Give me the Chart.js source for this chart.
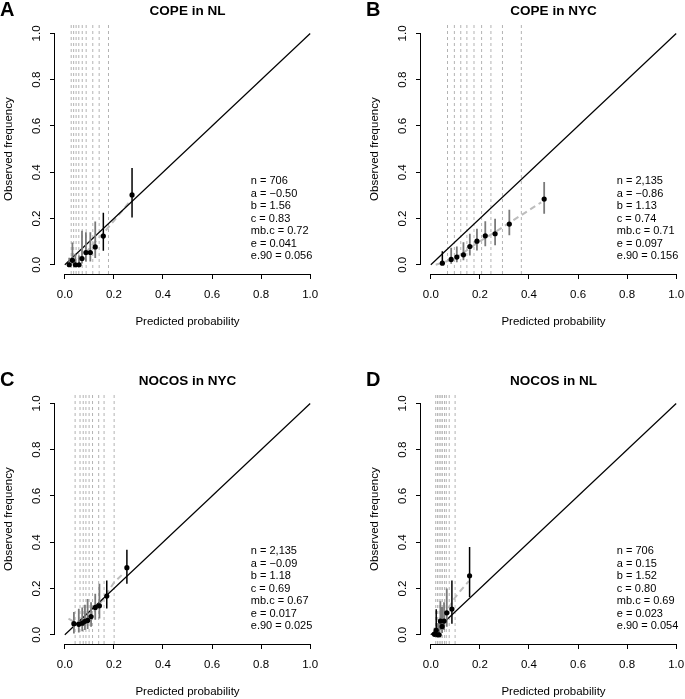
<!DOCTYPE html>
<html>
<head>
<meta charset="utf-8">
<script src="https://cdn.jsdelivr.net/npm/chart.js@4.4.1/dist/chart.umd.min.js"></script>
<style>
  html, body { margin: 0; padding: 0; background: #fff; }
  body { width: 685px; height: 699px; overflow: hidden; position: relative; }
  .panel { position: absolute; width: 345px; height: 370px; }
</style>
</head>
<body>
<div class="panel" style="left:0;top:0"><canvas id="chartA" width="345" height="370"></canvas></div>
<div class="panel" style="left:366px;top:0"><canvas id="chartB" width="345" height="370"></canvas></div>
<div class="panel" style="left:0;top:370px"><canvas id="chartC" width="345" height="370"></canvas></div>
<div class="panel" style="left:366px;top:370px"><canvas id="chartD" width="345" height="370"></canvas></div>
<script>
const tickValues = [0, 0.2, 0.4, 0.6, 0.8, 1.0];

// A - COPE in NL
const copeNlPred  = [0.018, 0.031, 0.043, 0.058, 0.070, 0.086, 0.104, 0.124, 0.157, 0.274];
const copeNlObs   = [0.000, 0.019, 0.000, 0.000, 0.027, 0.053, 0.053, 0.077, 0.124, 0.302];
const copeNlLow   = [0.000, 0.007, 0.000, 0.000, 0.005, 0.014, 0.014, 0.029, 0.060, 0.204];
const copeNlHigh  = [0.030, 0.096, 0.045, 0.040, 0.147, 0.141, 0.141, 0.187, 0.225, 0.418];
const copeNlCuts  = [0.026, 0.036, 0.046, 0.057, 0.071, 0.087, 0.114, 0.140, 0.178];
const copeNlSmoothX = [0.02, 0.05, 0.08, 0.12, 0.16, 0.20, 0.26];
const copeNlSmoothY = [0.00, 0.02, 0.045, 0.095, 0.14, 0.19, 0.267];
const copeNlStats = ['n = 706', 'a = \u22120.50', 'b = 1.56', 'c = 0.83', 'mb.c = 0.72', 'e = 0.041', 'e.90 = 0.056'];

// B - COPE in NYC
const copeNycPred = [0.047, 0.083, 0.106, 0.133, 0.159, 0.188, 0.222, 0.262, 0.320, 0.462];
const copeNycObs  = [0.007, 0.023, 0.033, 0.043, 0.079, 0.102, 0.125, 0.134, 0.176, 0.284];
const copeNycLow  = [0.000, 0.004, 0.011, 0.019, 0.040, 0.062, 0.080, 0.084, 0.127, 0.221];
const copeNycHigh = [0.058, 0.074, 0.079, 0.097, 0.134, 0.156, 0.188, 0.199, 0.238, 0.358];
const copeNycCuts = [0.068, 0.096, 0.122, 0.147, 0.176, 0.207, 0.245, 0.292, 0.369];
const copeNycSmoothX = [0.02, 0.08, 0.13, 0.19, 0.26, 0.34, 0.45];
const copeNycSmoothY = [0.00, 0.02, 0.05, 0.095, 0.14, 0.195, 0.27];
const copeNycStats = ['n = 2,135', 'a = \u22120.86', 'b = 1.13', 'c = 0.74', 'mb.c = 0.71', 'e = 0.097', 'e.90 = 0.156'];

// C - NOCOS in NYC
const nocosNycPred = [0.037, 0.057, 0.071, 0.082, 0.093, 0.107, 0.124, 0.141, 0.171, 0.253];
const nocosNycObs  = [0.048, 0.045, 0.050, 0.058, 0.062, 0.079, 0.118, 0.125, 0.167, 0.290];
const nocosNycLow  = [0.005, 0.010, 0.015, 0.020, 0.025, 0.035, 0.065, 0.070, 0.113, 0.221];
const nocosNycHigh = [0.098, 0.112, 0.118, 0.130, 0.155, 0.140, 0.177, 0.220, 0.235, 0.368];
const nocosNycCuts = [0.042, 0.062, 0.075, 0.086, 0.099, 0.113, 0.138, 0.160, 0.201];
const nocosNycSmoothX = [0.015, 0.04, 0.08, 0.12, 0.16, 0.20, 0.232];
const nocosNycSmoothY = [0.07, 0.055, 0.062, 0.10, 0.16, 0.225, 0.258];
const nocosNycStats = ['n = 2,135', 'a = \u22120.09', 'b = 1.18', 'c = 0.69', 'mb.c = 0.67', 'e = 0.017', 'e.90 = 0.025'];

// D - NOCOS in NL
const nocosNlPred = [0.015, 0.022, 0.028, 0.034, 0.039, 0.046, 0.054, 0.065, 0.086, 0.158];
const nocosNlObs  = [0.002, 0.019, 0.000, 0.000, 0.059, 0.036, 0.059, 0.095, 0.111, 0.255];
const nocosNlLow  = [0.000, 0.000, 0.000, 0.000, 0.020, 0.008, 0.020, 0.035, 0.048, 0.163];
const nocosNlHigh = [0.030, 0.110, 0.050, 0.060, 0.145, 0.120, 0.140, 0.200, 0.235, 0.379];
const nocosNlCuts = [0.020, 0.027, 0.034, 0.041, 0.047, 0.056, 0.063, 0.075, 0.099];
const nocosNlSmoothX = [0.012, 0.03, 0.05, 0.075, 0.10, 0.125, 0.155];
const nocosNlSmoothY = [0.002, 0.03, 0.07, 0.12, 0.163, 0.195, 0.232];
const nocosNlStats = ['n = 706', 'a = 0.15', 'b = 1.52', 'c = 0.80', 'mb.c = 0.69', 'e = 0.023', 'e.90 = 0.054'];

const FONT = '"Liberation Sans", Arial, Helvetica, sans-serif';
Chart.defaults.font.family = FONT;
Chart.defaults.color = '#000';

const panels = [
  { id: 'chartA', letter: 'A', title: 'COPE in NL', pred: copeNlPred, obs: copeNlObs, low: copeNlLow, high: copeNlHigh,
    cuts: copeNlCuts, sx: copeNlSmoothX, sy: copeNlSmoothY, stats: copeNlStats, dark: [8, 9] },
  { id: 'chartB', letter: 'B', title: 'COPE in NYC', pred: copeNycPred, obs: copeNycObs, low: copeNycLow, high: copeNycHigh,
    cuts: copeNycCuts, sx: copeNycSmoothX, sy: copeNycSmoothY, stats: copeNycStats, dark: [0] },
  { id: 'chartC', letter: 'C', title: 'NOCOS in NYC', pred: nocosNycPred, obs: nocosNycObs, low: nocosNycLow, high: nocosNycHigh,
    cuts: nocosNycCuts, sx: nocosNycSmoothX, sy: nocosNycSmoothY, stats: nocosNycStats, dark: [8, 9] },
  { id: 'chartD', letter: 'D', title: 'NOCOS in NL', pred: nocosNlPred, obs: nocosNlObs, low: nocosNlLow, high: nocosNlHigh,
    cuts: nocosNlCuts, sx: nocosNlSmoothX, sy: nocosNlSmoothY, stats: nocosNlStats, dark: [1, 8, 9] }
];

// vertical segments separated by gaps
function segments(xs, lows, highs, keep) {
  const pts = [];
  xs.forEach((x, i) => {
    if (!keep(i)) return;
    pts.push({ x: x, y: lows[i] }, { x: x, y: highs[i] }, { x: x, y: null });
  });
  return pts;
}

// R style axes (line only from 0 to 1), panel letter and stats text
const rStyle = {
  id: 'rStyle',
  afterDraw(chart, args, opts) {
    const { ctx, chartArea, scales: { x, y } } = chart;
    ctx.save();
    ctx.strokeStyle = '#000';
    ctx.lineWidth = 1;
    ctx.beginPath();
    ctx.moveTo(x.getPixelForValue(0), Math.round(chartArea.bottom) + 0.5);
    ctx.lineTo(x.getPixelForValue(1), Math.round(chartArea.bottom) + 0.5);
    ctx.moveTo(Math.round(chartArea.left) - 0.5, y.getPixelForValue(0));
    ctx.lineTo(Math.round(chartArea.left) - 0.5, y.getPixelForValue(1));
    ctx.stroke();

    ctx.fillStyle = '#000';
    ctx.textAlign = 'left';
    ctx.textBaseline = 'alphabetic';
    ctx.font = 'bold 20px ' + FONT;
    ctx.fillText(opts.letter, 0, 16);

    ctx.font = '11px ' + FONT;
    ctx.textBaseline = 'middle';
    const tx = x.getPixelForValue(0.758);
    const ty = y.getPixelForValue(0.362);
    opts.stats.forEach((s, i) => ctx.fillText(s, tx, ty + i * 12.5));
    ctx.restore();
  }
};

panels.forEach(p => {
  const cutPts = segments(p.cuts, p.cuts.map(() => -0.04), p.cuts.map(() => 1.04), () => true);
  const greyBars = segments(p.pred, p.low, p.high, i => !p.dark.includes(i));
  const blackBars = segments(p.pred, p.low, p.high, i => p.dark.includes(i));

  new Chart(document.getElementById(p.id), {
    type: 'scatter',
    data: {
      datasets: [
        { data: p.pred.map((x, i) => ({ x: x, y: p.obs[i] })), pointRadius: 2.6, pointBackgroundColor: '#000',
          pointBorderWidth: 0, order: 0 },
        { data: blackBars, showLine: true, borderColor: '#000', borderWidth: 1.5, pointRadius: 0, order: 1 },
        { data: greyBars, showLine: true, borderColor: '#7a7a7a', borderWidth: 1.8, pointRadius: 0, order: 2 },
        { data: [{ x: 0, y: 0 }, { x: 1, y: 1 }], showLine: true, borderColor: '#000', borderWidth: 1.2, pointRadius: 0, order: 3 },
        { data: p.sx.map((x, i) => ({ x: x, y: p.sy[i] })), showLine: true, borderColor: '#bdbdbd', borderWidth: 2,
          borderDash: [6, 4], pointRadius: 0, order: 4 },
        { data: cutPts, showLine: true, borderColor: '#b3b3b3', borderWidth: 1, borderDash: [3, 3], pointRadius: 0, order: 5 }
      ]
    },
    options: {
      responsive: false,
      animation: false,
      events: [],
      layout: { padding: { top: 0, right: 25, bottom: 0, left: 0 } },
      plugins: {
        legend: { display: false },
        tooltip: { enabled: false },
        title: { display: true, text: p.title, fullSize: false, color: '#000',
          font: { size: 13.5, weight: 'bold' }, padding: { top: 3, bottom: 5 } },
        rStyle: { letter: p.letter, stats: p.stats }
      },
      scales: {
        x: {
          type: 'linear', min: -0.04, max: 1.04,
          afterBuildTicks: s => { s.ticks = tickValues.map(v => ({ value: v })); },
          afterFit: s => { s.height = 96; s.paddingLeft = 0; s.paddingRight = 0; },
          grid: { drawOnChartArea: false, drawTicks: true, tickLength: 5, color: '#000', lineWidth: 1 },
          border: { display: false },
          ticks: { color: '#000', font: { size: 11.5 }, padding: 9, minRotation: 0, maxRotation: 0, autoSkip: false,
            callback: v => v.toFixed(1) },
          title: { display: true, text: 'Predicted probability', color: '#000', font: { size: 11.5 },
            padding: { top: 0, bottom: 41 } }
        },
        y: {
          type: 'linear', min: -0.04, max: 1.04,
          afterBuildTicks: s => { s.ticks = tickValues.map(v => ({ value: v })); },
          afterFit: s => { s.width = 55; s.paddingTop = 0; s.paddingBottom = 0; },
          grid: { drawOnChartArea: false, drawTicks: true, tickLength: 5, color: '#000', lineWidth: 1 },
          border: { display: false },
          ticks: { color: '#000', font: { size: 11.5 }, padding: 5, minRotation: 90, maxRotation: 90,
            crossAlign: 'center', autoSkip: false, callback: v => v.toFixed(1) },
          title: { display: true, text: 'Observed frequency', color: '#000', font: { size: 11.5 },
            padding: { top: 2, bottom: 0 } }
        }
      }
    },
    plugins: [rStyle]
  });
});
</script>
</body>
</html>
